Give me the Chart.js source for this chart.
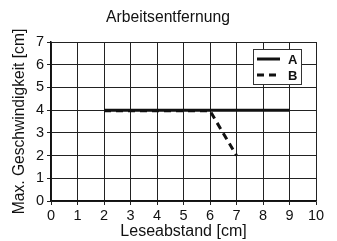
<!DOCTYPE html>
<html>
<head>
<meta charset="utf-8">
<script src="https://cdn.jsdelivr.net/npm/chart.js@4.4.0/dist/chart.umd.min.js"></script>
<style>
  html, body { margin: 0; padding: 0; background: #fff; }
  #wrap { width: 337px; height: 241px; position: relative; }
</style>
</head>
<body>
<div id="wrap"><canvas id="myChart"></canvas></div>
<script>
// values
const distA = [2, 9];
const speedA = [4, 4];
const distB = [2, 6, 7];
const speedB = [3.97, 3.97, 2];
const seriesNames = ['A', 'B'];
const chartTitle = 'Arbeitsentfernung';

const FONT = "'Liberation Sans', Arial, sans-serif";

// title sits a bit right of the canvas centre in the original, so draw it here
const titleText = {
    id: 'titleText',
    afterDraw(chart) {
        const ctx = chart.ctx;
        ctx.save();
        ctx.fillStyle = '#111';
        ctx.font = '15.7px ' + FONT;
        ctx.textAlign = 'center';
        ctx.textBaseline = 'middle';
        ctx.fillText(chartTitle, 168, 18);
        ctx.restore();
    }
};

// small boxed legend drawn inside the plot, top right
const boxLegend = {
    id: 'boxLegend',
    afterDraw(chart) {
        const ctx = chart.ctx;
        const x0 = 253, y0 = 49, w = 48, h = 35;
        ctx.save();
        ctx.fillStyle = '#fff';
        ctx.fillRect(x0, y0, w, h);
        ctx.strokeStyle = '#333';
        ctx.lineWidth = 1;
        ctx.strokeRect(x0 + 0.5, y0 + 0.5, w, h);
        chart.data.datasets.forEach((ds, i) => {
            const y = y0 + 10 + i * 16;
            ctx.strokeStyle = '#111';
            ctx.lineWidth = ds.borderWidth;
            ctx.setLineDash(ds.borderDash || []);
            ctx.beginPath();
            ctx.moveTo(x0 + 4, y);
            ctx.lineTo(x0 + 27, y);
            ctx.stroke();
            ctx.setLineDash([]);
            ctx.fillStyle = '#111';
            ctx.font = 'bold 13px ' + FONT;
            ctx.textBaseline = 'middle';
            ctx.fillText(ds.label, x0 + 35, y + 1);
        });
        ctx.restore();
    }
};

const chartRef = document.getElementById('myChart').getContext('2d');

new Chart(chartRef, {
    type: 'line',
    data: {
        datasets: [
            {
                label: seriesNames[0],
                data: distA.map((x, i) => ({x: x, y: speedA[i]})),
                borderColor: '#111',
                borderWidth: 3,
                pointRadius: 0,
                fill: false
            },
            {
                label: seriesNames[1],
                data: distB.map((x, i) => ({x: x, y: speedB[i]})),
                borderColor: '#111',
                borderWidth: 3,
                borderDash: [7, 5],
                pointRadius: 0,
                fill: false
            }
        ]
    },
    options: {
        responsive: true,
        maintainAspectRatio: false,
        animation: false,
        layout: {padding: {left: 0, right: 21, top: 42, bottom: 0}},
        plugins: {
            legend: {display: false},
            tooltip: {enabled: false},
            title: {display: false}
        },
        scales: {
            x: {
                type: 'linear',
                min: 0,
                max: 10,
                ticks: {stepSize: 1, color: '#111', font: {family: FONT, size: 14.5}, padding: 2, maxRotation: 0},
                grid: {color: '#222', lineWidth: 1, tickLength: 4, tickColor: '#222'},
                border: {color: '#111', width: 1.5},
                title: {display: true, text: 'Leseabstand [cm]', color: '#111',
                        font: {family: FONT, size: 16}, padding: {top: 0, bottom: 0}},
                afterFit(scale) { scale.height = 40; }
            },
            y: {
                min: 0,
                max: 7,
                ticks: {stepSize: 1, color: '#111', font: {family: FONT, size: 14.5}, padding: 3},
                grid: {color: '#222', lineWidth: 1, tickLength: 4, tickColor: '#222'},
                border: {color: '#111', width: 1.5},
                title: {display: true, text: 'Max. Geschwindigkeit [cm]', color: '#111',
                        font: {family: FONT, size: 15.6}, padding: {top: 10.6, bottom: 0}},
                afterFit(scale) { scale.width = 51; }
            }
        }
    },
    plugins: [titleText, boxLegend]
});
</script>
</body>
</html>
